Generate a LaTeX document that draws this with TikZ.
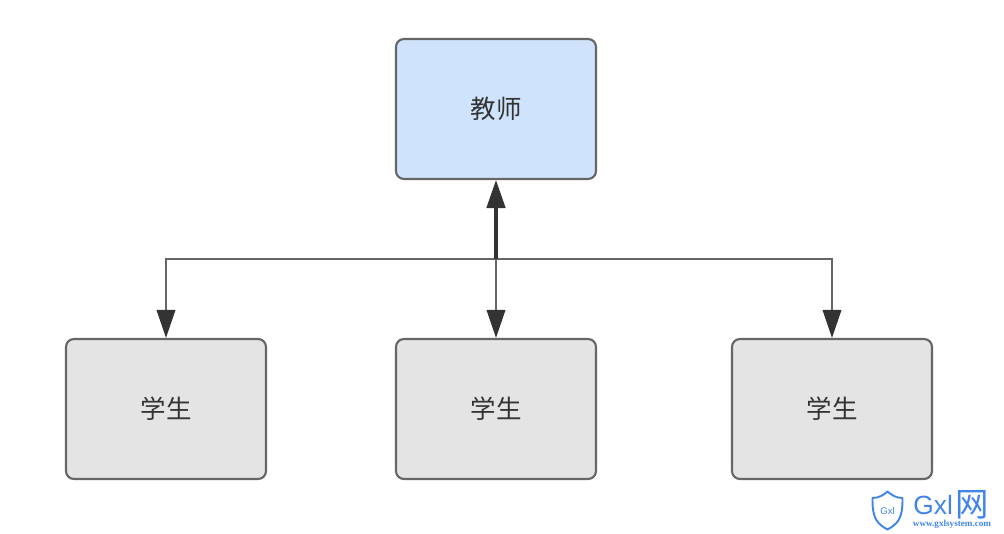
\documentclass[tikz,border=0pt]{standalone}
\usepackage{fontspec}
\setmainfont{Liberation Sans}
\newfontfamily\cjk{Noto Sans CJK SC}
\newfontfamily\markserif{Liberation Serif}
\usetikzlibrary{positioning}
\usetikzlibrary{arrows.meta}
\definecolor{boxline}{RGB}{102,102,102}
\definecolor{tipdark}{RGB}{51,51,51}
\definecolor{teacherfill}{RGB}{207,228,252}
\definecolor{studentfill}{RGB}{228,228,228}
\definecolor{markblue}{RGB}{66,133,234}
\tikzset{
  person/.style={draw=boxline, line width=1.2pt, rounded corners=4.5pt, minimum width=4cm,
    minimum height=2.8cm, text=tipdark, font=\cjk\fontsize{14.5}{16}\selectfont},
  link/.style={draw=boxline, line width=1.2pt, -{Triangle[length=0.56cm,width=0.37cm,fill=tipdark,color=tipdark]}},
  marktext/.style={text=markblue, inner sep=0pt}
}

\begin{document}
\begin{tikzpicture}

\useasboundingbox (0,0) rectangle (20.08,10.68);

%---------------------------------------
% Boxes
%---------------------------------------
\node[person, fill=teacherfill] (teacher) at (9.92,8.5) {教师};
\node[person, fill=studentfill] (studentA) at (3.32,2.5) {学生};
\node[person, fill=studentfill] (studentB) at (9.92,2.5) {学生};
\node[person, fill=studentfill] (studentC) at (16.64,2.5) {学生};

\coordinate (bus) at (9.92,5.5);

%---------------------------------------
% Arrows
%---------------------------------------
\draw[link] (bus) -| (studentA.north);
\draw[link] (bus) -| (studentC.north);
\draw[link] (bus) -- (studentB.north);
\draw[link, draw=tipdark, line width=1.8pt] (bus) -- (teacher.south);

%---------------------------------------
% Corner mark
%---------------------------------------
\draw[markblue, line width=1.1pt, line join=round]
  (17.45,0.68) .. controls (17.45,0.3) and (17.55,0.2) .. (17.75,0.09)
  .. controls (17.95,0.2) and (18.05,0.3) .. (18.05,0.68)
  -- (18.05,0.72) .. controls (17.92,0.72) and (17.83,0.78) .. (17.75,0.85)
  .. controls (17.67,0.78) and (17.58,0.72) .. (17.45,0.72) -- cycle;
\node[marktext, font=\fontsize{5.5}{6}\selectfont] (shieldtext) at (17.75,0.46) {Gxl};
\node[marktext, font=\fontsize{15}{17}\selectfont, anchor=west] (marklogo) at (18.26,0.58) {Gxl};
\node[marktext, font=\cjk\fontsize{19}{21}\selectfont, anchor=west] (markchar) at (19.1,0.58) {网};
\node[marktext, font=\markserif\bfseries\fontsize{5.2}{6}\selectfont] (markurl) at (19.04,0.19) {www.gxlsystem.com};

\end{tikzpicture}
\end{document}
